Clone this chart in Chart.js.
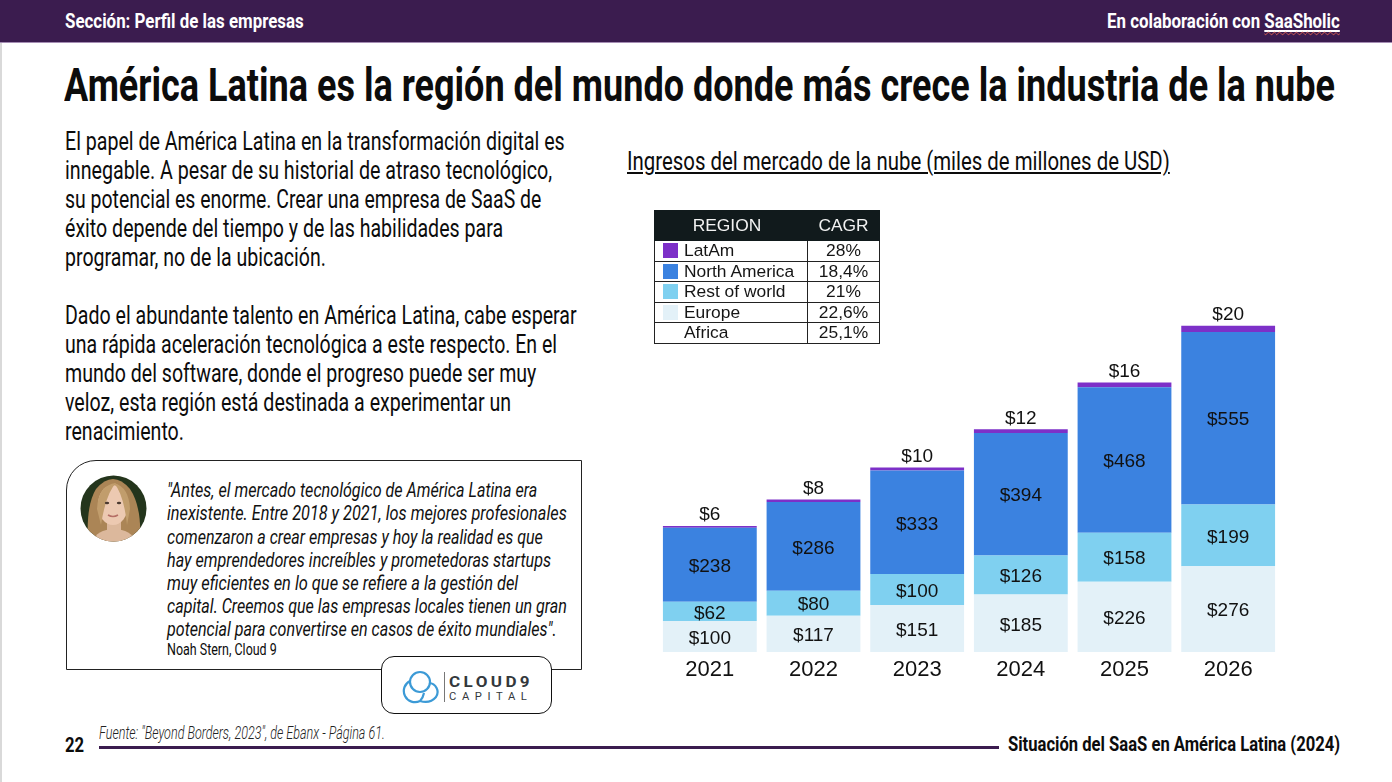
<!DOCTYPE html>
<html lang="es">
<head>
<meta charset="utf-8">
<title>Situación del SaaS en América Latina (2024)</title>
<script src="https://cdn.jsdelivr.net/npm/chart.js@4"></script>
<style>
  html, body { margin: 0; padding: 0; background: #fff; }
  body { width: 1392px; height: 782px; position: relative; overflow: hidden; font-family: Roboto, sans-serif; color: #0c0c0c; }
  .edge { position: absolute; left: 0; top: 0; width: 2px; height: 782px; background: #d9d9d9; }
  .header { position: absolute; left: 0; top: 0; width: 1392px; height: 42px; background: #3b1c4f; border-bottom: 1px solid #a58db4; }
  .line { position: absolute; white-space: nowrap; transform-origin: left center; line-height: 1; }
  .box { position: absolute; left: 66px; top: 460px; width: 514px; height: 208px; border: 1.5px solid #222; border-top-left-radius: 30px; }
  .logo { position: absolute; left: 381px; top: 656px; width: 169px; height: 56px; background: #fff; border: 1.5px solid #111; border-radius: 13px; }
  .rule { position: absolute; left: 99px; top: 746px; width: 900px; height: 3px; background: #3b1c4f; }
  svg { position: absolute; }
  canvas { position: absolute; left: 658px; top: 301px; }
  table { position: absolute; left: 654px; top: 210px; width: 225px; height: 133px; border-collapse: collapse; table-layout: fixed; font: 17.4px "Liberation Sans", sans-serif; color: #151515; }
  th { background: #111a1c; color: #f2f2f2; font-weight: 400; height: 29px; padding: 0; border: 1px solid #111a1c; }
  th:first-child { padding-right: 8px; box-sizing: border-box; }
  td { border: 1px solid #222; padding: 0; height: 19.5px; line-height: 1; text-align: center; }
  td.region { text-align: left; position: relative; padding-left: 29px; }
  td.region i { position: absolute; left: 8px; top: 2px; width: 15px; height: 15px; }
</style>
</head>
<body>
<div class="edge"></div>
<div class="header"></div>
<div class="box"></div>
<svg style="left:80px;top:475px" width="67" height="67" viewBox="0 0 67 67">
  <defs><clipPath id="round"><circle cx="33.5" cy="33.5" r="33"/></clipPath></defs>
  <g clip-path="url(#round)">
    <rect width="67" height="67" fill="#24351c"/>
    <path d="M8 67 Q6 30 16 14 Q33 -6 50 14 Q62 32 60 67 Z" fill="#ab8556"/>
    <ellipse cx="34" cy="66" rx="20" ry="12" fill="#dcb89c"/>
    <rect x="27" y="44" width="14" height="16" fill="#dcb89c"/>
    <ellipse cx="33" cy="30" rx="15" ry="20" fill="#ecc9b1"/>
    <path d="M17 34 Q18 10 36 8 Q26 18 21 50 Z" fill="#c19d6c"/>
    <path d="M50 34 Q49 12 34 8 Q44 20 47 50 Z" fill="#c19d6c"/>
    <ellipse cx="27" cy="28" rx="2.2" ry="1.2" fill="#4b3a30"/>
    <ellipse cx="39" cy="28" rx="2.2" ry="1.2" fill="#4b3a30"/>
    <path d="M28 40 Q33 43 38 40" stroke="#b56f66" stroke-width="1.5" fill="none"/>
  </g>
</svg>
<div class="logo"></div>
<svg style="left:396px;top:668px" width="50" height="36" viewBox="0 0 50 36" fill="none" stroke="#3c9ad6" stroke-width="2.2">
  <circle cx="24" cy="14" r="10"/>
  <path d="M14 13 A11 11 0 1 0 24 33 Q27 30 28 25"/>
  <path d="M24 33 Q34 36 40 29 A9 9 0 0 0 33 15"/>
</svg>
<svg style="left:444px;top:672px" width="2" height="30"><rect width="1" height="30" fill="#777"/></svg>
<div class="rule"></div>
<canvas id="chart" width="622" height="390"></canvas>
<table id="legend"></table>

<script>
const years = ['2021', '2022', '2023', '2024', '2025', '2026'];
const europe = [100, 117, 151, 185, 226, 276];
const restOfWorld = [62, 80, 100, 126, 158, 199];
const northAmerica = [238, 286, 333, 394, 468, 555];
const latAm = [6, 8, 10, 12, 16, 20];

const regions = ['LatAm', 'North America', 'Rest of world', 'Europe', 'Africa'];
const cagr = ['28%', '18,4%', '21%', '22,6%', '25,1%'];
const swatches = ['#7d30c8', '#3b82e0', '#7fd0f0', '#e3f1f8', null];

// [text, left, right, centre y, size, weight, colour, extra css]
const white = '#fff';
const italic = 'font-style:italic';
const lines = [
  ['Sección: Perfil de las empresas', 65, 304, 21, 21, 700, white],
  ['En colaboración con <u><span style="text-decoration:underline wavy #e2604f 1px;text-underline-offset:3px">SaaSholic</span></u>', 1107, 1340, 21, 21, 700, white],
  ['América Latina es la región del mundo donde más crece la industria de la nube', 64, 1335, 84, 47, 700],

  ['El papel de América Latina en la transformación digital es', 65, 565, 141, 25, 400],
  ['innegable. A pesar de su historial de atraso tecnológico,', 65, 552, 170, 25, 400],
  ['su potencial es enorme. Crear una empresa de SaaS de', 65, 541, 199, 25, 400],
  ['éxito depende del tiempo y de las habilidades para', 65, 503, 228, 25, 400],
  ['programar, no de la ubicación.', 65, 326, 257, 25, 400],
  ['Dado el abundante talento en América Latina, cabe esperar', 65, 577, 315, 25, 400],
  ['una rápida aceleración tecnológica a este respecto. En el', 65, 557, 344, 25, 400],
  ['mundo del software, donde el progreso puede ser muy', 65, 536, 373, 25, 400],
  ['veloz, esta región está destinada a experimentar un', 65, 511, 402, 25, 400],
  ['renacimiento.', 65, 184, 431, 25, 400],

  ['"Antes, el mercado tecnológico de América Latina era', 167, 537, 490, 21, 400, '#111', italic],
  ['inexistente. Entre 2018 y 2021, los mejores profesionales', 167, 567, 513, 21, 400, '#111', italic],
  ['comenzaron a crear empresas y hoy la realidad es que', 167, 543, 537, 21, 400, '#111', italic],
  ['hay emprendedores increíbles y prometedoras startups', 167, 551, 560, 21, 400, '#111', italic],
  ['muy eficientes en lo que se refiere a la gestión del', 167, 518, 583, 21, 400, '#111', italic],
  ['capital. Creemos que las empresas locales tienen un gran', 167, 567, 606, 21, 400, '#111', italic],
  ['potencial para convertirse en casos de éxito mundiales".', 167, 557, 629, 21, 400, '#111', italic],
  ['Noah Stern, Cloud 9', 167, 277, 649, 17, 400],

  ['CLOUD9', 449, 533, 682, 15, 700, '#33383c', 'letter-spacing:3px'],
  ['CAPITAL', 449, 532, 697, 10, 400, '#33383c', 'letter-spacing:5px'],

  ['Fuente: "Beyond Borders, 2023", de Ebanx - Página 61.', 99, 385, 732, 19, 300, '#222', italic],
  ['22', 65, 84, 745, 21, 700],
  ['Situación del SaaS en América Latina (2024)', 1008, 1340, 744, 21, 700],
  ['<u>Ingresos del mercado de la nube (miles de millones de USD)</u>', 627, 1170, 161, 26, 400]
];

// no condensed font on the box, so every line is squeezed to its measured width
lines.forEach(([text, left, right, y, size, weight, color, extra]) => {
  const el = document.createElement('div');
  el.className = 'line';
  el.innerHTML = text;
  el.style.cssText = `left:${left}px;top:${y - size / 2}px;font-size:${size}px;font-weight:${weight};color:${color || '#0c0c0c'};${extra || ''}`;
  document.body.appendChild(el);
  el.style.transform = `scaleX(${(right - left) / el.offsetWidth})`;
});

const legend = document.getElementById('legend');
legend.innerHTML =
  '<colgroup><col style="width:153px"><col style="width:72px"></colgroup><tr><th>REGION</th><th>CAGR</th></tr>' +
  regions.map((region, i) => {
    const swatch = swatches[i] ? `<i style="background:${swatches[i]}"></i>` : '';
    return `<tr><td class="region">${swatch}${region}</td><td>${cagr[i]}</td></tr>`;
  }).join('');

const barLabels = {
  id: 'barLabels',
  afterDatasetsDraw(chart) {
    const { ctx } = chart;
    ctx.save();
    ctx.font = '19px "Liberation Sans", sans-serif';
    ctx.fillStyle = '#111';
    ctx.textAlign = 'center';
    ctx.textBaseline = 'middle';
    chart.data.datasets.forEach((dataset, d) => {
      const onTop = d === chart.data.datasets.length - 1;
      chart.getDatasetMeta(d).data.forEach((bar, i) => {
        const y = onTop ? bar.y - 11 : (bar.y + bar.base) / 2 + 2;
        ctx.fillText('$' + dataset.data[i], bar.x, y);
      });
    });
    ctx.restore();
  },
};

new Chart(document.getElementById('chart'), {
  type: 'bar',
  data: {
    labels: years,
    datasets: [
      { label: 'Europe', data: europe, backgroundColor: swatches[3] },
      { label: 'Rest of world', data: restOfWorld, backgroundColor: swatches[2] },
      { label: 'North America', data: northAmerica, backgroundColor: swatches[1] },
      { label: 'LatAm', data: latAm, backgroundColor: swatches[0] },
    ],
  },
  options: {
    responsive: false,
    animation: false,
    layout: { padding: 0 },
    datasets: { bar: { categoryPercentage: 1, barPercentage: 0.905 } },
    plugins: { legend: { display: false }, tooltip: { enabled: false } },
    scales: {
      x: {
        stacked: true,
        grid: { display: false, drawTicks: false },
        border: { display: false },
        ticks: { color: '#111', padding: 5, font: { family: '"Liberation Sans", sans-serif', size: 22 } },
        afterFit: (scale) => { scale.height = 39; },
      },
      y: { stacked: true, display: false, min: 0, max: 1130 },
    },
  },
  plugins: [barLabels],
});
</script>
</body>
</html>
